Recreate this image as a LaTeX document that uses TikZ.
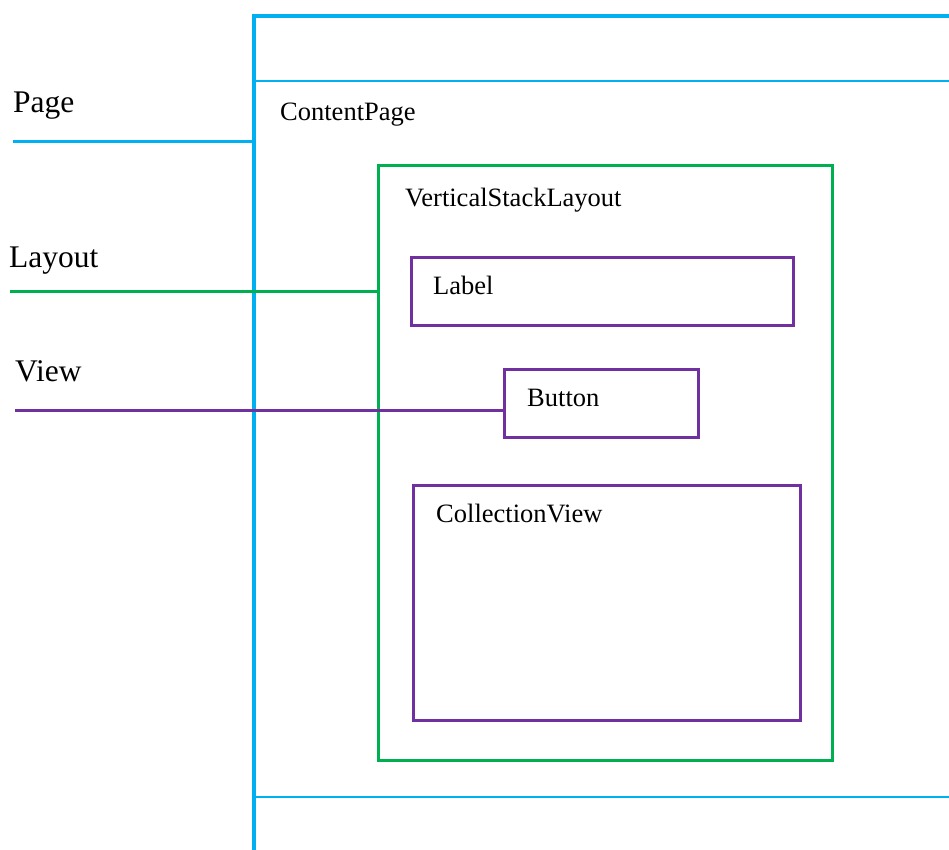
\documentclass[tikz,border=0pt]{standalone}
\usepackage{fontspec}
\setmainfont{Liberation Serif}
\definecolor{pageblue}{HTML}{00B0F0}
\definecolor{layoutgreen}{HTML}{00B050}
\definecolor{viewpurple}{HTML}{7030A0}
\tikzset{
  bigtext/.style={anchor=base west, inner sep=0pt, font=\fontsize{31.5}{36}\selectfont},
  smalltext/.style={anchor=base west, inner sep=0pt, font=\fontsize{26.5}{31}\selectfont},
  layoutbox/.style={draw=layoutgreen, line width=3pt, inner sep=0pt},
  viewbox/.style={draw=viewpurple, line width=3pt, inner sep=0pt},
  framethick/.style={draw=pageblue, line width=4pt},
  framethin/.style={draw=pageblue, line width=2pt},
}
\begin{document}
\begin{tikzpicture}[x=1pt, y=-1pt]
  \useasboundingbox (0,0) rectangle (949,850);

  % page frame
  \coordinate (frametop) at (254,14);
  \coordinate (framebot) at (254,850);
  \draw[framethick] (frametop) -- (framebot);
  \draw[framethick] (252,16) -- (949,16);
  \draw[framethin] (254,81) -- (949,81);
  \draw[framethin] (254,797) -- (949,797);

  % containers
  \node[layoutbox, minimum width=454pt, minimum height=594pt] (vsl) at (605,463) {};
  \node[viewbox, minimum width=382pt, minimum height=68pt] (lbl) at (602,291) {};
  \node[viewbox, minimum width=194pt, minimum height=68pt] (btn) at (601,403) {};
  \node[viewbox, minimum width=387pt, minimum height=235pt] (cv) at (606.5,602.5) {};

  % texts inside
  \node[smalltext] (tcontent) at (280,121) {ContentPage};
  \node[smalltext] (tvsl) at (405,207) {VerticalStackLayout};
  \node[smalltext] (tlbl) at (433,294) {Label};
  \node[smalltext] (tbtn) at (527,406) {Button};
  \node[smalltext] (tcv) at (436,522) {CollectionView};

  % legend
  \node[bigtext] (tpage) at (13,113) {Page};
  \node[bigtext] (tlayout) at (9,267) {Layout};
  \node[bigtext] (tview) at (15,381) {View};

  \coordinate (pagestart) at (13,142);
  \coordinate (layoutstart) at (10,291);
  \coordinate (viewstart) at (15,410);
  \draw[pageblue, line width=3pt] (pagestart) -- (frametop |- pagestart);
  \draw[layoutgreen, line width=3pt] (layoutstart) -- (vsl.west |- layoutstart);
  \draw[viewpurple, line width=3pt] (viewstart) -- (btn.west |- viewstart);
\end{tikzpicture}
\end{document}
